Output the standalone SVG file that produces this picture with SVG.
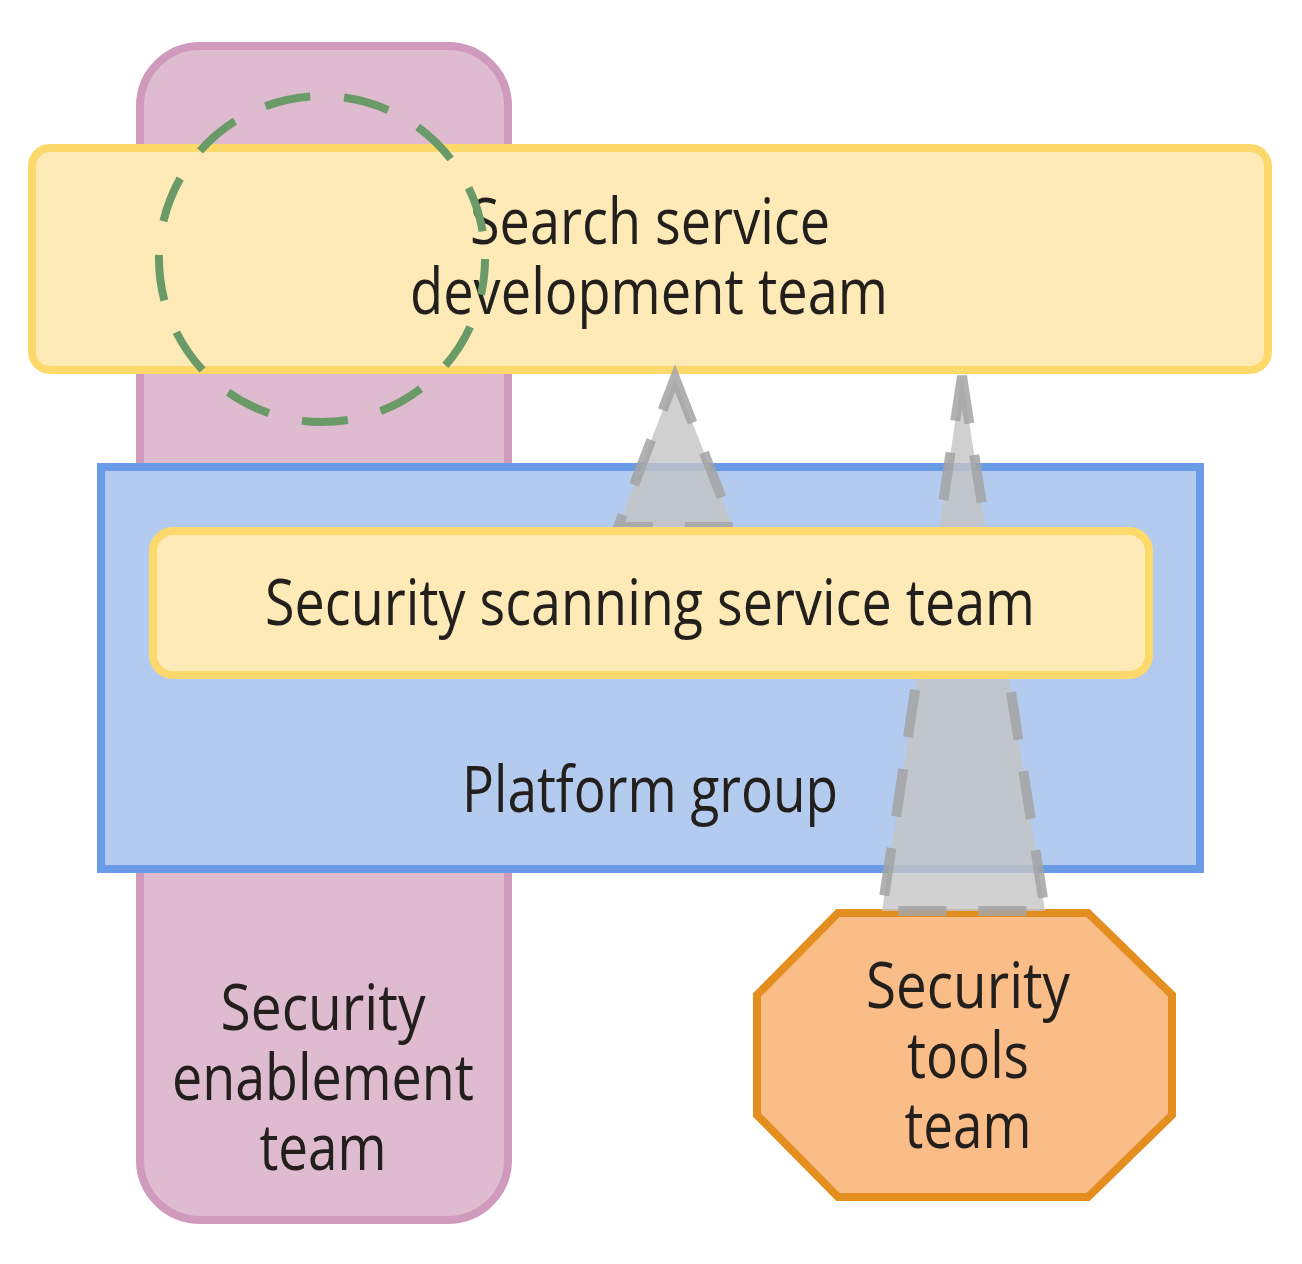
<svg xmlns="http://www.w3.org/2000/svg" width="1302" height="1264" viewBox="0 0 1302 1264">
<style>
.lbl{font-family:"Open Sans","Noto Sans","Liberation Sans",sans-serif;font-size:64px;fill:#231f1c;text-anchor:middle}
.yel{fill:#fdeab6;stroke:#fcd96a;stroke-width:8}
.tri{fill:#c4c4c4;fill-opacity:0.8;stroke:#a3a3a3;stroke-opacity:0.85;stroke-width:10;stroke-dasharray:48 32}
</style>
<rect width="1302" height="1264" fill="#ffffff"/>
<g id="security-enablement-team">
<rect x="140" y="46" width="368" height="1174" rx="60" fill="#dfbbd0" stroke="#cf9abb" stroke-width="8"/>
<text class="lbl" x="323" y="1030" textLength="205" lengthAdjust="spacingAndGlyphs">Security</text>
<text class="lbl" x="323" y="1100" textLength="302" lengthAdjust="spacingAndGlyphs">enablement</text>
<text class="lbl" x="323" y="1170" textLength="127" lengthAdjust="spacingAndGlyphs">team</text>
</g>
<g id="search-service-development-team">
<rect class="yel" x="32" y="148" width="1236" height="222" rx="18"/>
<text class="lbl" x="650" y="244" textLength="360" lengthAdjust="spacingAndGlyphs">Search service</text>
<text class="lbl" x="649" y="314" textLength="478" lengthAdjust="spacingAndGlyphs">development team</text>
</g>
<g id="enabling-interaction">
<circle cx="322" cy="259" r="163" fill="none" stroke="#6b9a69" stroke-width="8" stroke-dasharray="46 34" stroke-dashoffset="10"/>
</g>
<g id="platform-group">
<rect x="101" y="467" width="1099" height="402" fill="#b4cbf0" stroke="#6a9be6" stroke-width="8"/>
<text class="lbl" x="650" y="812" textLength="376" lengthAdjust="spacingAndGlyphs">Platform group</text>
</g>
<g id="security-tools-team">
<polygon points="838,913 1088,913 1172,995 1172,1115 1088,1197 838,1197 757,1115 757,995" fill="#fbbd88" stroke="#e38e1e" stroke-width="8"/>
<text class="lbl" x="968" y="1008" textLength="204" lengthAdjust="spacingAndGlyphs">Security</text>
<text class="lbl" x="968" y="1078" textLength="122" lengthAdjust="spacingAndGlyphs">tools</text>
<text class="lbl" x="968" y="1148" textLength="127" lengthAdjust="spacingAndGlyphs">team</text>
</g>
<g id="connectors">
<polygon class="tri" points="675,378 733,527 618,527"/>
<polygon class="tri" points="962,376 1045,911 882,911"/>
</g>
<g id="security-scanning-service-team">
<rect class="yel" x="153" y="531" width="996" height="144" rx="20"/>
<text class="lbl" x="650" y="625" textLength="770" lengthAdjust="spacingAndGlyphs">Security scanning service team</text>
</g>
</svg>
